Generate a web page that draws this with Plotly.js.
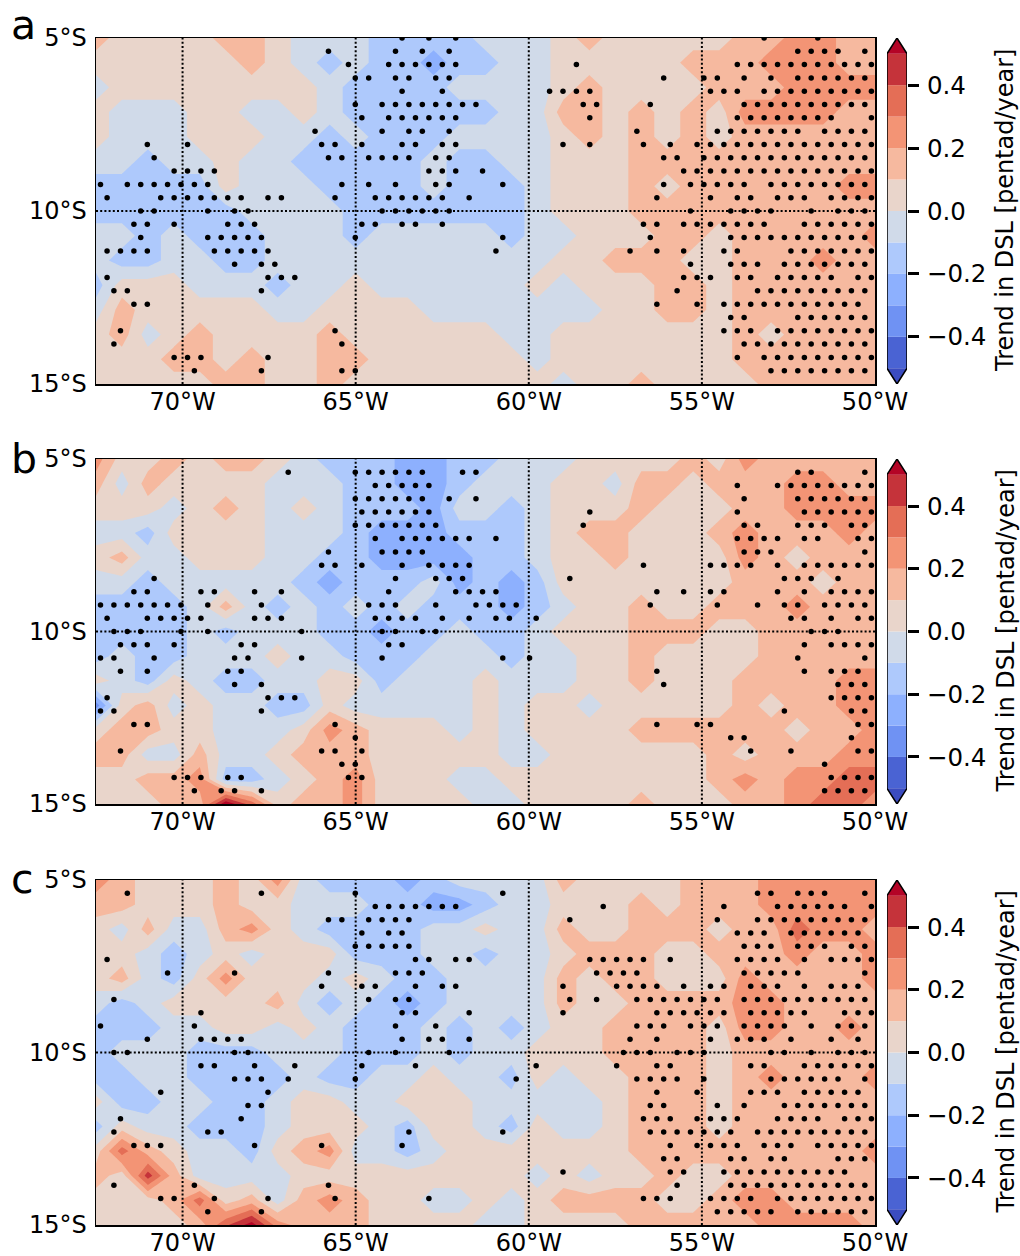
<!DOCTYPE html>
<html><head><meta charset="utf-8">
<script src="https://cdn.plot.ly/plotly-3.0.1.min.js"></script>
<style>html,body{margin:0;padding:0;background:#fff}#c{width:1020px;height:1256px}</style>
</head><body><div id="c"></div>
<script>
// Trend in DSL, hundredths of pentad/year, rows 5S -> 15S, columns 72.5W -> 50W
const dslA = [
[15,5,5,5,5,15,15,5,-5,-5,-5,-15,-15,-15,-15,-5,-5,-5,5,15,5,5,5,5,5,15,15,25,25,15,15],
[5,5,5,5,5,5,15,5,-5,-15,-5,-15,-15,-25,-15,-15,-5,-5,5,5,5,5,5,15,15,15,25,25,25,15,15],
[-5,5,5,5,5,5,5,5,5,-5,-15,-15,-15,-15,-5,-5,-5,-5,5,15,5,5,5,5,15,15,15,25,25,25,25],
[5,-5,-5,-5,5,5,-5,-5,5,-5,-15,-15,-15,-15,-15,-15,-5,-5,15,15,5,15,5,15,5,25,25,25,25,15,15],
[5,-5,-5,-5,5,5,5,-5,-5,-15,-5,-15,-15,-15,-5,-5,-5,-5,5,15,5,15,5,15,5,15,15,15,15,15,15],
[-5,-5,-15,-5,-5,5,-5,-5,-15,-15,-15,-15,-15,-5,-15,-15,-5,-5,5,5,5,15,15,15,15,15,15,15,15,15,15],
[-15,-15,-15,-15,-15,5,-5,-5,-5,-15,-15,-15,-15,-5,-15,-15,-15,-5,5,5,5,15,5,15,15,15,15,15,15,25,25],
[-15,-15,-15,-15,-15,-15,-5,-5,-5,-5,-15,-15,-15,-15,-15,-15,-15,-5,5,5,5,15,15,15,15,15,15,15,15,15,15],
[-5,-5,-15,-5,-15,-15,-15,-5,-5,-5,-15,-5,-5,-5,-5,-5,-15,-5,-5,5,5,5,15,15,5,15,15,15,15,15,25],
[-5,-15,-15,-5,-5,-15,-15,-5,-5,-5,-5,-5,-5,-5,-5,-5,-5,-5,5,5,15,15,15,5,5,15,15,15,25,15,15],
[-15,5,5,5,-5,-5,-5,-15,-5,-5,5,-5,-5,-5,-5,-5,-5,5,-5,5,5,5,15,15,5,15,15,15,15,15,15],
[-5,15,5,5,5,5,5,-5,-5,5,5,5,5,-5,-5,-5,-5,-5,-5,-5,5,5,15,15,5,15,15,15,15,15,15],
[5,15,-5,5,15,5,5,5,5,15,5,5,5,5,5,5,-5,-5,5,5,5,5,5,5,5,15,5,15,15,15,15],
[5,5,5,15,15,5,15,5,5,15,15,5,5,5,5,5,5,-5,5,5,5,5,5,5,5,15,15,15,15,15,15],
[5,5,5,5,5,15,15,5,5,15,5,5,5,5,5,5,5,5,-5,5,5,15,5,5,5,5,15,15,15,15,15]
];
const dslB = [
[25,5,5,15,5,15,15,5,-5,-15,-15,-15,-25,-25,-15,-15,-5,-5,-5,5,5,5,5,15,5,25,15,15,15,15,15],
[15,-5,15,5,5,5,5,-5,-5,-5,-15,-15,-25,-25,-15,-5,-5,-5,5,5,-5,15,15,5,15,15,15,25,25,15,15],
[5,5,5,-5,5,15,5,-5,5,-5,-15,-15,-15,-25,-5,-5,-15,-5,5,5,5,15,5,5,5,15,15,25,25,25,25],
[-5,-5,-15,5,5,5,5,-5,-5,-5,-15,-25,-25,-25,-15,-15,-15,-5,5,15,15,5,5,5,15,25,15,15,15,25,15],
[5,15,-5,-5,5,5,5,-5,-5,-15,-15,-25,-25,-25,-25,-15,-15,-5,5,5,15,5,5,5,5,25,15,5,15,15,15],
[-5,-5,-15,-5,-5,-5,-5,-5,-15,-25,-15,-15,-15,-5,-25,-15,-25,-15,5,5,5,5,5,5,5,15,15,15,5,15,15],
[-15,-15,-15,-15,-5,15,-5,-15,-5,-15,-5,-15,-5,-15,-15,-15,-25,-15,-5,5,5,15,5,5,15,15,15,25,15,15,15],
[-15,-15,-15,-15,-5,-15,-5,-5,-5,-15,-15,-25,-15,-15,-5,-15,-15,-5,5,5,5,15,15,15,5,5,15,15,15,15,15],
[-15,-5,-15,-15,-5,-5,-5,5,-5,-5,-15,-15,-15,-5,-5,-5,-15,-5,-5,5,5,15,5,5,5,5,15,15,15,15,15],
[5,-5,-15,5,-5,-15,-15,-5,-5,5,5,-15,-5,-5,-5,5,-5,-5,-5,5,5,15,5,5,5,15,15,15,15,25,25],
[-35,5,15,-5,5,-5,-5,-15,-15,5,-5,-5,-5,-5,-5,5,-5,5,5,-5,5,5,5,5,5,15,5,15,15,25,25],
[5,15,15,5,5,-5,-5,-5,5,25,15,5,5,5,-5,5,-5,5,5,5,5,15,15,15,15,15,15,5,15,15,25],
[15,15,-5,-5,15,-5,-5,5,15,15,15,5,5,5,5,5,-5,-5,5,5,5,5,5,5,15,5,15,15,15,25,25],
[5,5,15,15,25,-15,-15,-5,5,15,25,5,5,5,-5,-5,5,5,5,5,5,5,5,5,15,25,15,25,25,35,35],
[5,5,5,15,15,58,35,5,15,15,25,5,5,5,5,-5,-5,5,5,5,5,15,5,5,5,15,15,25,35,35,25]
];
const dslC = [
[25,15,5,5,5,15,5,25,-5,-15,-15,-15,-25,-15,-5,-5,-5,-5,15,5,5,5,5,15,15,15,25,25,25,25,25],
[15,15,5,5,5,15,5,5,-5,-5,-5,-15,-15,-25,-25,-15,-5,-5,5,5,5,15,5,15,15,15,25,25,25,25,25],
[5,-5,15,-5,-5,15,25,5,-5,-15,-15,-15,-15,-5,-5,5,-5,-5,15,5,5,15,15,15,5,15,15,35,25,25,15],
[5,5,-5,-15,-5,5,-5,5,5,5,-15,-15,-15,-5,-5,-15,-5,-5,5,15,15,15,5,5,15,15,15,25,15,15,25],
[5,15,-5,-15,5,25,5,5,5,-5,5,-5,-15,-15,-5,-5,-5,-5,15,5,15,15,5,5,5,25,15,15,15,15,25],
[-5,-15,-5,5,5,5,5,15,-5,-15,-5,-15,-25,-15,-5,-5,-5,-5,15,5,5,15,15,15,15,25,25,15,15,15,15],
[-15,-15,-15,-5,-5,5,5,-5,5,-5,-15,-15,-15,-5,-15,-5,-15,-5,5,5,15,15,15,15,5,25,25,15,15,25,15],
[-15,-5,-5,-5,-15,-15,-15,-5,-5,-5,-15,-15,-15,-5,-15,-5,-5,5,5,5,15,15,15,15,5,15,15,15,15,15,15],
[-15,-15,-5,-5,-15,-15,-15,-15,-5,-15,-15,-5,-5,5,-5,-5,-15,5,-5,5,5,15,15,15,5,15,25,15,15,15,25],
[5,-15,-15,-5,-5,-15,-15,-5,5,5,-5,-5,5,5,5,-5,-5,-5,-5,-5,5,15,15,15,5,15,15,15,15,15,15],
[-15,5,-5,-5,-15,-15,-15,-5,5,5,5,-5,-15,5,5,-5,-15,5,-5,-5,5,15,15,15,5,15,15,15,15,15,15],
[5,35,15,5,-5,-5,-15,5,15,25,-5,-5,-15,-5,5,5,5,5,5,5,5,15,15,15,15,15,15,15,15,15,25],
[15,5,45,15,-5,-5,-5,-5,5,5,5,5,5,5,5,5,5,-5,5,-5,5,5,15,5,5,15,15,15,15,15,15],
[5,5,5,15,35,5,15,-5,15,25,15,5,5,-5,-5,5,-5,5,15,15,15,15,5,5,15,25,25,15,15,15,15],
[5,5,5,5,15,38,55,25,15,15,15,5,5,5,5,-5,-5,5,5,5,5,15,15,15,15,15,25,25,25,25,15]
];
// Significance stippling: one list of column numbers for each row of the staggered grid (row 0 = 5S, row 26 = 15S)
const dotsA = [
[22,24,26,49,53],
[17,22,24,26,52,53,54,55,57],
[18,21,22,23,24,25,26,35,47,48,49,50,51,52,53,54,55,56,57],
[19,20,22,23,25,26,42,45,46,48,50,52,53,54,55,56,57],
[22,25,33,34,35,36,45,46,47,49,50,51,52,53,54,55,56,57],
[19,21,22,23,24,25,26,27,28,36,37,41,48,49,50,51,52,53,54,55,56,57],
[19,21,22,23,24,25,26,36,47,48,49,50,51,52,53,54,57],
[16,21,23,24,26,40,46,47,48,49,50,51,52,54,55,56,57],
[3,6,16,17,19,22,23,25,26,34,36,40,42,44,45,46,47,48,49,50,51,52,53,54,55,56,57],
[4,17,18,20,21,22,23,25,26,42,43,45,46,47,48,49,50,51,52,53,54,55,56,57],
[5,6,7,8,24,25,26,28,43,44,45,46,47,48,49,50,51,52,53,54,55,56,57],
[0,2,3,4,5,6,7,8,18,20,22,25,26,30,42,44,45,46,47,48,50,51,52,53,54,55,56,57],
[0,4,5,6,7,8,9,10,12,13,17,20,21,22,23,24,25,27,41,45,47,48,50,51,52,54,55,56,57],
[3,4,8,10,11,21,22,23,24,25,26,44,47,48,49,50,53,55,56,57],
[2,3,5,9,10,11,19,20,22,23,25,40,41,43,44,45,46,47,48,49,52,53,54,55,56,57],
[3,8,9,10,11,12,19,30,41,47,48,49,50,51,52,53,54,55,56,57],
[0,1,2,3,8,9,10,11,12,29,39,41,43,46,47,51,52,53,54,55,56,57],
[10,12,13,44,47,48,49,51,52,53,54,55,56,57],
[0,12,13,14,43,44,45,47,48,50,51,52,53,54,56,57],
[1,2,12,43,49,50,51,52,53,54,55,56,57],
[2,3,41,44,46,47,48,49,50,51,52,53,54,55,56],
[47,48,52,53,54,55,56,57],
[1,17,46,47,48,50,51,52,53,54,55,56,57],
[1,18,48,49,50,51,52,53,54,55,56,57],
[5,6,7,12,47,49,50,51,52,53,54,55,56,57],
[7,12,18,19,50,51,52,53,54,55,56,57],
[]
];
const dotsB = [
[],
[14,19,20,21,22,23,24,27,28,52,53,57],
[20,21,22,23,24,47,50,51,52,53,54,55,56,57],
[19,20,21,22,23,24,26,28,48,52,53,54,55,56,57],
[19,20,21,22,23,24,36,47,52,53,54,55,56,57],
[19,20,21,22,23,24,25,36,48,49,52,53,54,56,57],
[20,22,23,24,25,26,27,29,47,48,49,50,52,53,56,57],
[17,21,22,23,24,48,49,50,57],
[16,17,19,22,24,25,26,27,40,45,46,47,48,50,52,53,54,55,56,57],
[4,22,25,26,27,35,51,52,53,55],
[2,3,7,8,11,13,21,26,27,28,29,41,43,45,46,50,52,54,55,56,57],
[0,1,2,3,4,5,6,8,12,20,21,22,25,28,29,30,31,41,46,49,51,52,54,55,56,57],
[0,3,4,5,6,7,11,12,13,20,21,22,23,25,27,29,30,32,51,52,54,56,57],
[1,2,3,6,8,15,21,22,24,25,53,54,55],
[1,2,3,5,10,11,21,22,52,54,55,56,57],
[0,1,4,10,11,15,21,30,32,52,57],
[1,3,9,10,41,52,54,55,56],
[10,12,42,55,56,57],
[0,12,13,14,54,55,56,57],
[0,1,12,51,56,57],
[2,3,17,41,44,45,56,57],
[19,47,48,56],
[1,16,17,19,48,51,56,57],
[18,19,54],
[5,6,7,9,10,18,19,54,55,56,57],
[7,9,10,12,54,55,56,57],
[]
];
const dotsC = [
[],
[2,12,19,30,49,50,52,53,54,57],
[20,21,22,23,24,25,26,37,46,50,51,52,53,54,55,57],
[17,18,20,21,22,23,35,46,49,50,51,52,53,54,55,56,57],
[19,21,22,47,48,49,51,52,53,54,55,56],
[19,20,21,22,23,48,49,50,52,53,54,56,57],
[0,23,24,26,27,36,37,38,39,40,42,47,48,49,50,52,54,55,56,57],
[5,10,17,22,23,24,37,38,39,40,48,49,50,51,52,57],
[16,19,20,23,25,26,34,38,39,40,41,43,45,46,48,49,50,52,54,55,56],
[1,20,22,23,35,37,40,41,42,43,44,45,46,48,49,50,51,52,53,54,55,56,57],
[7,22,23,27,34,41,42,43,44,45,46,48,49,50,51,52,55,56,57],
[0,7,22,25,40,41,42,44,45,46,48,49,50,51,53,55,56,57],
[3,7,8,9,10,22,24,25,27,39,41,45,47,48,49,51,54,56],
[1,2,10,11,20,22,26,39,40,41,43,44,45,50,51,53,55,56,57],
[7,8,11,14,19,23,32,38,41,42,48,49,52,53,54,55,56,57],
[10,11,12,14,19,31,40,41,42,43,45,50,51,52,53,54,55,57],
[4,12,41,44,48,49,50,52,53,54,55,56],
[11,12,41,42,46,48,51,52,53,54,55,56,57],
[1,10,40,41,42,44,45,46,47,50,51,52,53,55,56,57],
[1,8,9,23,30,41,42,43,44,45,46,47,49,50,51,52,53,54,55,56,57],
[2,3,4,11,16,22,42,44,45,46,47,49,50,51,53,54,55,56,57],
[42,43,47,48,50,51,55,56,57],
[34,42,43,46,47,48,49,50,51,52,53,54,55],
[1,7,17,43,47,48,49,50,51,52,53,54,55,56,57],
[4,5,8,12,17,24,40,41,42,45,46,47,48,50,51,52,53,54,55,56,57],
[8,12,46,47,48,49,50,52,53,54,55,56,57],
[]
];
const xTickVals = [-70,-65,-60,-55,-50];
const xTickText = ['70°W','65°W','60°W','55°W','50°W'];
const yTickVals = [-5,-10,-15];
const yTickText = ['5°S','10°S','15°S'];
const gridLons = [-70,-65,-60,-55];
const gridLat = -10;
const levels = [-0.5,-0.4,-0.3,-0.2,-0.1,0,0.1,0.2,0.3,0.4];
const bandColors = ['#3b4cc0','#4a63d3','#6f92f3','#8db0fe','#aec9fc','#d0dae9','#e9d5cb','#f6b99f','#f39475','#e46e56','#c5333a','#b40426'];
const cbTicks = [-0.4,-0.2,0,0.2,0.4];
const cbTickText = ['−0.4','−0.2','0.0','0.2','0.4'];
const panels = [['a',dslA,dotsA],['b',dslB,dotsB],['c',dslC,dotsC]];
const FONT = 'DejaVu Sans';
const H = 1256, W = 1020;
const tops = [[38,384],[459,804],[880,1225]];
const letterY = [25,459,879];
// plotly spreads a fill colorscale over one more band than there are levels
const scaleColors = bandColors.concat([bandColors[11]]);
const step = [];
scaleColors.forEach((c,i)=>{step.push([i/13,c]);step.push([(i+1)/13,c]);});

const traces = [];
const layout = {width:W,height:H,margin:{l:0,r:0,t:0,b:0},paper_bgcolor:'#fff',plot_bgcolor:'#fff',showlegend:false,
  font:{family:FONT,color:'#000',size:24},annotations:[]};

panels.forEach(([lab,z,dots],p)=>{
  const s = p===0?'':String(p+1);
  const cs = String(p+4);
  const dom = [1-tops[p][1]/H,1-tops[p][0]/H];
  const lons = z[0].map((_,j)=>-72.5+j*0.75);
  const lats = z.map((_,i)=>-5-i*10/14);
  traces.push({type:'contour',x:lons,y:lats,z:z.map(r=>r.map(v=>v/100)),xaxis:'x'+s,yaxis:'y'+s,
    autocontour:false,contours:{coloring:'fill',showlines:false,start:-0.6,end:0.6,size:0.1},
    line:{width:0,smoothing:0},colorscale:step,showscale:false,hoverinfo:'skip'});
  const dx=[],dy=[];
  dots.forEach((row,k)=>row.forEach(n=>{dx.push((k%2?-72.37:-72.18)+0.3873*n);dy.push(-5-k*10/26);}));
  traces.push({type:'scatter',mode:'markers',x:dx,y:dy,xaxis:'x'+s,yaxis:'y'+s,marker:{color:'#000',size:5.5,line:{width:0}},hoverinfo:'skip'});
  gridLons.forEach(g=>traces.push({type:'scatter',mode:'lines',x:[g,g],y:[-15,-5],xaxis:'x'+s,yaxis:'y'+s,line:{color:'#000',width:2,dash:'2px,2.2px'},hoverinfo:'skip'}));
  traces.push({type:'scatter',mode:'lines',x:[-72.5,-50],y:[gridLat,gridLat],xaxis:'x'+s,yaxis:'y'+s,line:{color:'#000',width:2,dash:'2px,2.2px'},hoverinfo:'skip'});
  layout['xaxis'+s] = {domain:[96/W,875/W],range:[-72.5,-50],anchor:'y'+s,tickmode:'array',tickvals:xTickVals,ticktext:xTickText,
    ticks:'',ticklabelstandoff:-4,showgrid:false,zeroline:false,showline:true,mirror:true,linecolor:'#000',linewidth:1.5,
    tickfont:{family:FONT,size:24,color:'#000'}};
  layout['yaxis'+s] = {domain:dom,range:[-15,-5],anchor:'x'+s,tickmode:'array',tickvals:yTickVals,ticktext:yTickText,
    ticks:'outside',ticklen:3,tickcolor:'rgba(0,0,0,0)',showgrid:false,zeroline:false,showline:true,mirror:true,linecolor:'#000',linewidth:1.5,
    tickfont:{family:FONT,size:24,color:'#000'}};
  // colour bar as its own small axes
  const cb = levels.map((l,i)=>bandColors[i+1]);
  traces.push({type:'bar',x:levels.map(()=>0.5),y:levels.map(()=>0.1),base:levels,width:levels.map(()=>1),marker:{color:cb,line:{width:0}},xaxis:'x'+cs,yaxis:'y'+cs,hoverinfo:'skip'});
  traces.push({type:'scatter',mode:'lines',x:[0,0.5,1,0],y:[0.5,0.55,0.5,0.5],fill:'toself',fillcolor:bandColors[11],line:{width:0},xaxis:'x'+cs,yaxis:'y'+cs,hoverinfo:'skip'});
  traces.push({type:'scatter',mode:'lines',x:[0,0.5,1,0],y:[-0.5,-0.55,-0.5,-0.5],fill:'toself',fillcolor:bandColors[0],line:{width:0},xaxis:'x'+cs,yaxis:'y'+cs,hoverinfo:'skip'});
  traces.push({type:'scatter',mode:'lines',x:[0,0,0.5,1,1,0.5,0],y:[-0.5,0.5,0.55,0.5,-0.5,-0.55,-0.5],line:{color:'#000',width:1.5},xaxis:'x'+cs,yaxis:'y'+cs,hoverinfo:'skip',cliponaxis:false});
  layout['xaxis'+cs] = {domain:[887/W,907/W],range:[0,1],anchor:'y'+cs,visible:false,fixedrange:true};
  layout['yaxis'+cs] = {domain:dom,range:[-0.55,0.55],anchor:'x'+cs,side:'right',tickmode:'array',tickvals:cbTicks,ticktext:cbTickText,
    ticks:'outside',ticklen:11,tickwidth:3,tickcolor:'#000',showgrid:false,zeroline:false,showline:false,
    tickfont:{family:FONT,size:24.5,color:'#000'},ticklabelstandoff:3};
  layout.annotations.push({xref:'paper',yref:'paper',x:1005/W,y:1-(tops[p][0]+tops[p][1])/2/H,text:'Trend in DSL [pentad/year]',textangle:-90,showarrow:false,font:{family:FONT,size:24,color:'#000'},xanchor:'center',yanchor:'middle'});
  layout.annotations.push({xref:'paper',yref:'paper',x:9/W,y:1-letterY[p]/H,text:lab,showarrow:false,font:{family:FONT,size:41,color:'#000'},xanchor:'left',yanchor:'middle'});
});
layout.barmode='overlay';
Plotly.newPlot('c',traces,layout,{staticPlot:true,displayModeBar:false});
</script></body></html>
